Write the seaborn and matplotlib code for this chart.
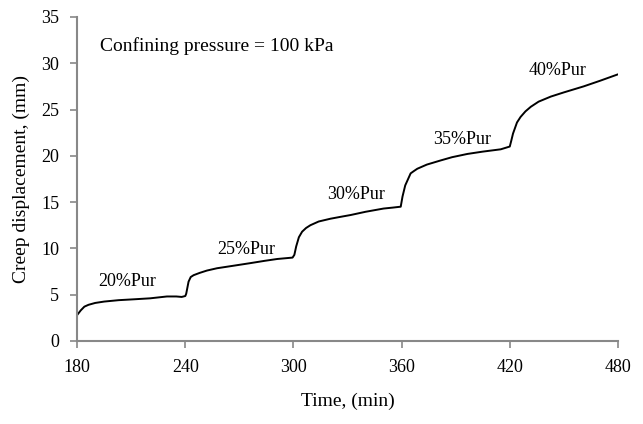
import matplotlib
matplotlib.use("Agg")
import matplotlib.pyplot as plt
import numpy as np
import pandas as pd
import seaborn as sns

# creep curve
time_min = [180, 182, 184, 186.3, 190, 195, 203, 212, 220.5, 229.8, 235,
            238, 240, 240.5, 241.8, 243, 244.6, 248, 252, 257.6, 266, 276,
            284, 291, 299.5, 300.5, 301.5, 303, 304.8, 307, 309.4, 314,
            320.5, 326, 331.7, 340, 350, 355, 359.5, 360.5, 362, 365, 366.8,
            368.7, 374, 381.7, 388, 396.5, 405, 415, 420, 420.8, 421.8, 424,
            426, 428.7, 431.7, 436, 442.8, 450, 461, 470, 480]
creep_mm = [2.8, 3.3, 3.7, 3.9, 4.1, 4.25, 4.4, 4.5, 4.6, 4.8, 4.8,
            4.75, 4.85, 5.1, 6.4, 6.9, 7.1, 7.35, 7.6, 7.85, 8.1, 8.4,
            8.65, 8.85, 9.0, 9.3, 10.2, 11.2, 11.8, 12.2, 12.5, 12.9,
            13.2, 13.4, 13.6, 13.95, 14.3, 14.4, 14.5, 15.6, 16.8, 18.1, 18.35,
            18.6, 19.05, 19.5, 19.85, 20.2, 20.45, 20.7, 21.0, 21.6, 22.4, 23.6,
            24.2, 24.8, 25.3, 25.85, 26.4, 26.85, 27.5, 28.1, 28.8]

stage_labels = ["20%Pur", "25%Pur", "30%Pur", "35%Pur", "40%Pur"]
label_x = [207.6, 274, 335, 393.7, 446.5]
label_y = [6.4, 9.9, 15.8, 21.8, 29.2]

x_ticks = [180, 240, 300, 360, 420, 480]
y_ticks = [0, 5, 10, 15, 20, 25, 30, 35]

df = pd.DataFrame({"time": time_min, "creep": creep_mm})

sns.set_style("ticks")
plt.rcParams["font.family"] = ["Liberation Serif", "DejaVu Serif"]
plt.rcParams["text.color"] = "black"
plt.rcParams["axes.labelcolor"] = "black"
plt.rcParams["xtick.labelcolor"] = "black"
plt.rcParams["ytick.labelcolor"] = "black"

fig = plt.figure(figsize=(6.43, 4.24), dpi=100)
ax = fig.add_axes([0.12, 0.196, 0.841, 0.764])

sns.lineplot(data=df, x="time", y="creep", color="black", linewidth=1.4, ax=ax)

for lab, lx, ly in zip(stage_labels, label_x, label_y):
    ax.text(lx, ly, lab, ha="center", va="center", fontsize=13)

ax.text(192.8, 31.9, "Confining pressure = 100 kPa", ha="left", va="center",
        fontsize=14)

ax.set_xlim(180, 480)
ax.set_ylim(0, 35)
ax.set_xticks(x_ticks)
ax.set_yticks(y_ticks)
ax.tick_params(labelsize=13, length=5, width=1.2, color="#888888",
               labelcolor="black", direction="out", pad=8)
for side in ["top", "right"]:
    ax.spines[side].set_visible(False)
for side in ["left", "bottom"]:
    ax.spines[side].set_color("#888888")
    ax.spines[side].set_linewidth(1.5)

ax.set_xlabel("Time, (min)", fontsize=14, labelpad=12)
ax.set_ylabel("Creep displacement, (mm)", fontsize=14, labelpad=8)

fig.savefig("out.png", dpi=100)
